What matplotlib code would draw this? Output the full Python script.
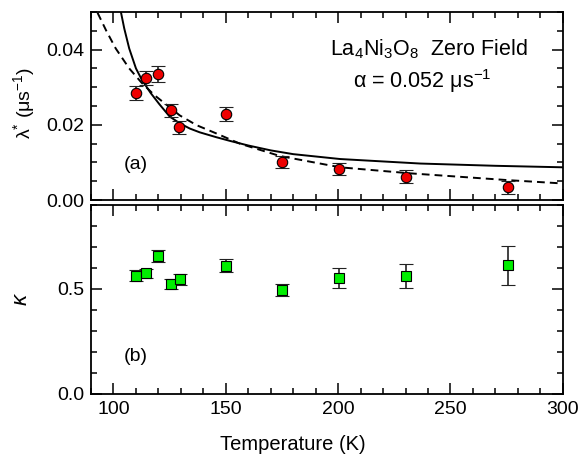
import numpy as np
import matplotlib
matplotlib.use("Agg")
import matplotlib.pyplot as plt
from matplotlib.ticker import MultipleLocator, FormatStrFormatter

plt.rcParams['font.family'] = ['Liberation Sans', 'DejaVu Sans']
plt.rcParams['mathtext.fontset'] = 'custom'
plt.rcParams['mathtext.rm'] = 'Liberation Sans'
plt.rcParams['mathtext.it'] = 'Liberation Sans:italic'
plt.rcParams['mathtext.default'] = 'regular'

# relaxation rate lambda* (panel a)
T_lam = [109.8, 114.5, 120.0, 125.4, 129.3, 150.0, 174.9, 200.4, 230.2, 275.4]
lam = [0.0284, 0.0324, 0.0336, 0.0239, 0.0193, 0.0229, 0.0101, 0.0082, 0.0062, 0.0034]
lam_err = [0.0019, 0.0018, 0.0021, 0.0017, 0.0017, 0.0019, 0.0016, 0.0016, 0.0018, 0.0017]

# fit curves
T_solid = [103.3, 104.8, 107.0, 110.0, 112.6, 116.5, 120.4, 125.0, 129.5, 134.0,
           138.4, 145.8, 152.0, 160.0, 170.0, 180.0, 200.9, 236.6, 270.0, 300.0]
lam_solid = [0.0500, 0.0456, 0.0403, 0.0350, 0.0320, 0.0285, 0.0255, 0.0222, 0.0204, 0.0190,
             0.0180, 0.0167, 0.0157, 0.0145, 0.0132, 0.0122, 0.0109, 0.0097, 0.0091, 0.0087]
T_dash = [92.9, 96.8, 101.0, 107.0, 112.5, 118.2, 129.5, 137.0, 145.8, 156.2,
          174.1, 200.9, 232.0, 275.3, 300.0]
lam_dash = [0.0498, 0.0450, 0.0403, 0.0350, 0.0312, 0.0279, 0.0225, 0.0199, 0.0177, 0.0150,
            0.0117, 0.0087, 0.0071, 0.0053, 0.0044]

# stretching exponent kappa (panel b)
T_kap = [110.0, 114.6, 120.0, 125.4, 129.5, 150.0, 175.0, 200.4, 230.2, 275.4]
kap = [0.564, 0.574, 0.657, 0.524, 0.546, 0.611, 0.495, 0.553, 0.561, 0.612]
kap_err = [0.024, 0.022, 0.030, 0.024, 0.027, 0.030, 0.030, 0.046, 0.056, 0.091]

fig = plt.figure(figsize=(5.82, 4.55), dpi=100)
ax1 = fig.add_axes([0.1564, 0.5604, 0.8106, 0.4132])
ax2 = fig.add_axes([0.1564, 0.1341, 0.8106, 0.4154])

fs = 14

for ax in (ax1, ax2):
    ax.set_xlim(90, 300)
    ax.xaxis.set_major_locator(MultipleLocator(50))
    ax.xaxis.set_minor_locator(MultipleLocator(10))
    ax.tick_params(which='both', direction='in', top=True, right=True, width=1.1)
    ax.tick_params(which='major', length=8, labelsize=fs, pad=5)
    ax.tick_params(which='minor', length=4.5)
    for s in ax.spines.values():
        s.set_linewidth(1.3)

# panel a
ax1.plot(T_solid, lam_solid, color='black', lw=1.4)
ax1.plot(T_dash, lam_dash, color='black', lw=1.4, dashes=(4, 2.6))
ax1.errorbar(T_lam, lam, yerr=lam_err, fmt='o', color='#222222', ecolor='#222222',
             mfc='#ee0000', mec='black', mew=0.8, ms=7.5, capsize=5, elinewidth=1.2,
             capthick=1.2, zorder=3)
ax1.set_ylim(0, 0.05)
ax1.yaxis.set_major_locator(MultipleLocator(0.02))
ax1.yaxis.set_minor_locator(MultipleLocator(0.005))
ax1.yaxis.set_major_formatter(FormatStrFormatter('%.2f'))
ax1.tick_params(labelbottom=False)
ax1.set_ylabel('λ$^{*}$ (μs$^{-1}$)', fontsize=fs)
ax1.yaxis.set_label_coords(-0.114, 0.516)
ax1.text(0.716, 0.771, 'La$_4$Ni$_3$O$_8$  Zero Field', transform=ax1.transAxes,
         ha='center', va='baseline', fontsize=15.5)
ax1.text(0.703, 0.596, 'α = 0.052 μs$^{-1}$', transform=ax1.transAxes,
         ha='center', va='baseline', fontsize=15.5)
ax1.text(0.095, 0.19, '(a)', transform=ax1.transAxes, ha='center', va='center', fontsize=fs)

# panel b
ax2.errorbar(T_kap, kap, yerr=kap_err, fmt='s', color='#222222', ecolor='#222222',
             mfc='#00ee00', mec='black', mew=0.8, ms=6.5, capsize=5, elinewidth=1.2,
             capthick=1.2, zorder=3)
ax2.set_ylim(0, 0.9)
ax2.yaxis.set_major_locator(MultipleLocator(0.5))
ax2.yaxis.set_minor_locator(MultipleLocator(0.1))
ax2.yaxis.set_major_formatter(FormatStrFormatter('%.1f'))
ax2.set_ylabel('κ', fontsize=fs + 2, style='italic')
ax2.yaxis.set_label_coords(-0.125, 0.5)
ax2.text(0.095, 0.196, '(b)', transform=ax2.transAxes, ha='center', va='center', fontsize=fs)
ax2.set_xlabel('Temperature (K)', fontsize=14.5)
ax2.xaxis.set_label_coords(0.428, -0.215)

fig.savefig('out.png', dpi=100)
